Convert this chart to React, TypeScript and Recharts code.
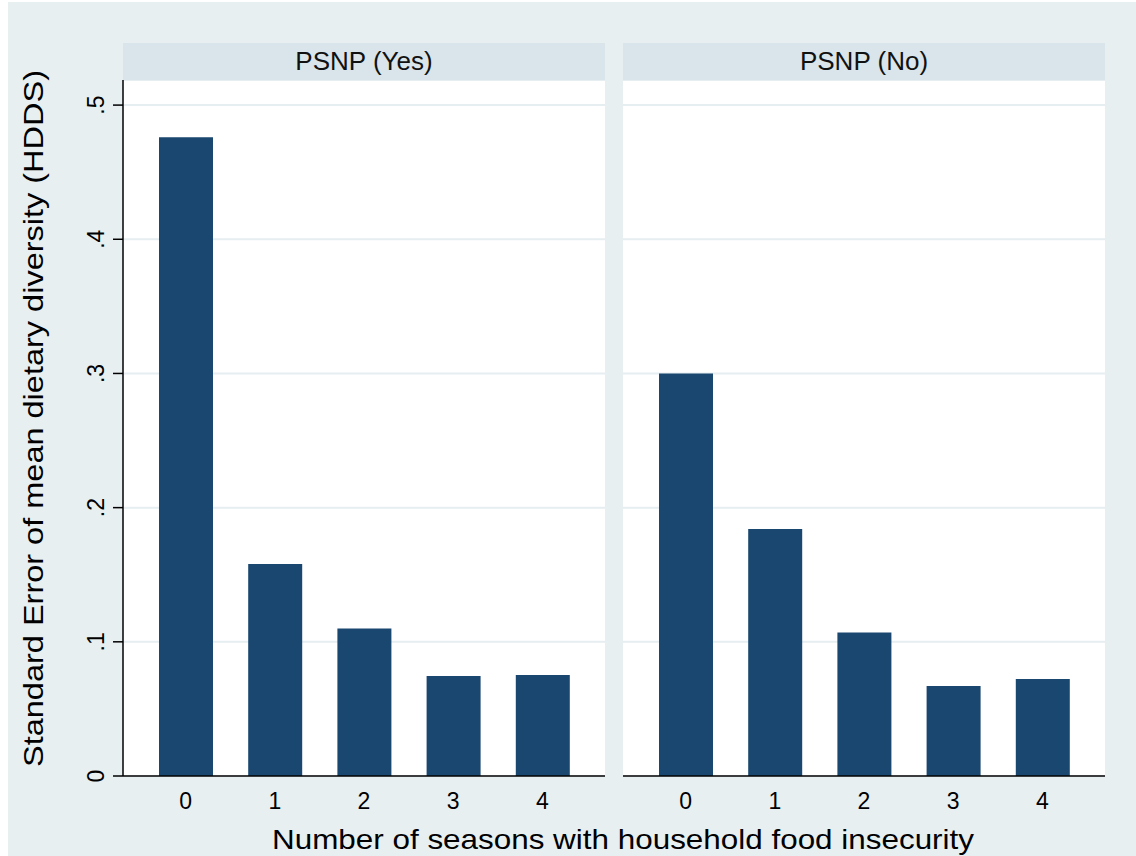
import { BarChart, Bar, XAxis, YAxis, CartesianGrid } from "recharts";

const seasons = ["0", "1", "2", "3", "4"];
const psnpYes = [0.476, 0.158, 0.11, 0.0745, 0.0752];
const psnpNo = [0.3, 0.184, 0.107, 0.067, 0.0722];
const panelTitles = ["PSNP (Yes)", "PSNP (No)"];
const yTicks = [0, 0.1, 0.2, 0.3, 0.4, 0.5];
const yTop = 0.5187;

const font = '"Liberation Sans", Arial, Helvetica, sans-serif';
const barColor = "#1a476f";
const gridColor = "#e6eef1";

const toRows = (values: number[]) =>
  seasons.map((season, i) => ({ season, se: values[i] }));

// Stata-style labels: ".1", ".2" ... with a bare "0"
const fmtTick = (v: number) => (v === 0 ? "0" : "." + Math.round(v * 10));

function RotatedTick(props: any) {
  const { x, y, payload } = props;
  return (
    <text
      transform={`translate(${x},${y}) rotate(-90)`}
      textAnchor="middle"
      fontSize={23}
      fontFamily={font}
      fill="#000"
    >
      {fmtTick(payload.value)}
    </text>
  );
}

function Panel({ values, title, left, withAxis }: { values: number[]; title: string; left: number; withAxis: boolean }) {
  const axisW = withAxis ? 55 : 0;
  const plotLeft = left + axisW;
  return (
    <>
      <div
        style={{
          position: "absolute",
          left: plotLeft,
          top: 41,
          width: 482,
          height: 37,
          background: "#d9e5ea",
          textAlign: "center",
          lineHeight: "37px",
          fontFamily: font,
          fontSize: 26,
          color: "#111",
        }}
      >
        {title}
      </div>
      <div style={{ position: "absolute", left, top: 78 }}>
        <BarChart
          width={axisW + 482}
          height={746}
          data={toRows(values)}
          margin={{ top: 0, right: 0, bottom: 0, left: 0 }}
        >
          <CartesianGrid vertical={false} stroke={gridColor} strokeWidth={2} fill="#ffffff" />
          <XAxis
            dataKey="season"
            height={50}
            padding={{ left: 18, right: 18 }}
            tickLine={false}
            tickSize={0}
            tickMargin={17}
            axisLine={{ stroke: "#000", strokeWidth: 1.5 }}
            tick={{ fontSize: 23, fontFamily: font, fill: "#000" }}
          />
          <YAxis
            hide={!withAxis}
            width={axisW}
            domain={[0, yTop]}
            ticks={yTicks}
            tickSize={10}
            tickMargin={9}
            tickLine={{ stroke: "#000", strokeWidth: 1.5 }}
            axisLine={{ stroke: "#000", strokeWidth: 1.5 }}
            tick={<RotatedTick />}
          />
          <Bar dataKey="se" fill={barColor} barSize={54} isAnimationActive={false} />
        </BarChart>
      </div>
    </>
  );
}

export default function App() {
  return (
    <div
      style={{
        position: "absolute",
        left: 8,
        top: 2,
        width: 1128,
        height: 854,
        background: "#e8eff1",
        overflow: "hidden",
      }}
    >
      <Panel values={psnpYes} title={panelTitles[0]} left={60} withAxis />
      <Panel values={psnpNo} title={panelTitles[1]} left={615} withAxis={false} />
      <svg
        width={1128}
        height={854}
        style={{ position: "absolute", left: 0, top: 0, pointerEvents: "none" }}
        fontFamily={font}
        fill="#000"
      >
        <text x={615} y={847} fontSize={28} textAnchor="middle" textLength={702} lengthAdjust="spacingAndGlyphs">
          Number of seasons with household food insecurity
        </text>
        <text
          transform="translate(35,416.5) rotate(-90)"
          fontSize={28}
          textAnchor="middle"
          textLength={697}
          lengthAdjust="spacingAndGlyphs"
        >
          Standard Error of mean dietary diversity (HDDS)
        </text>
      </svg>
    </div>
  );
}
